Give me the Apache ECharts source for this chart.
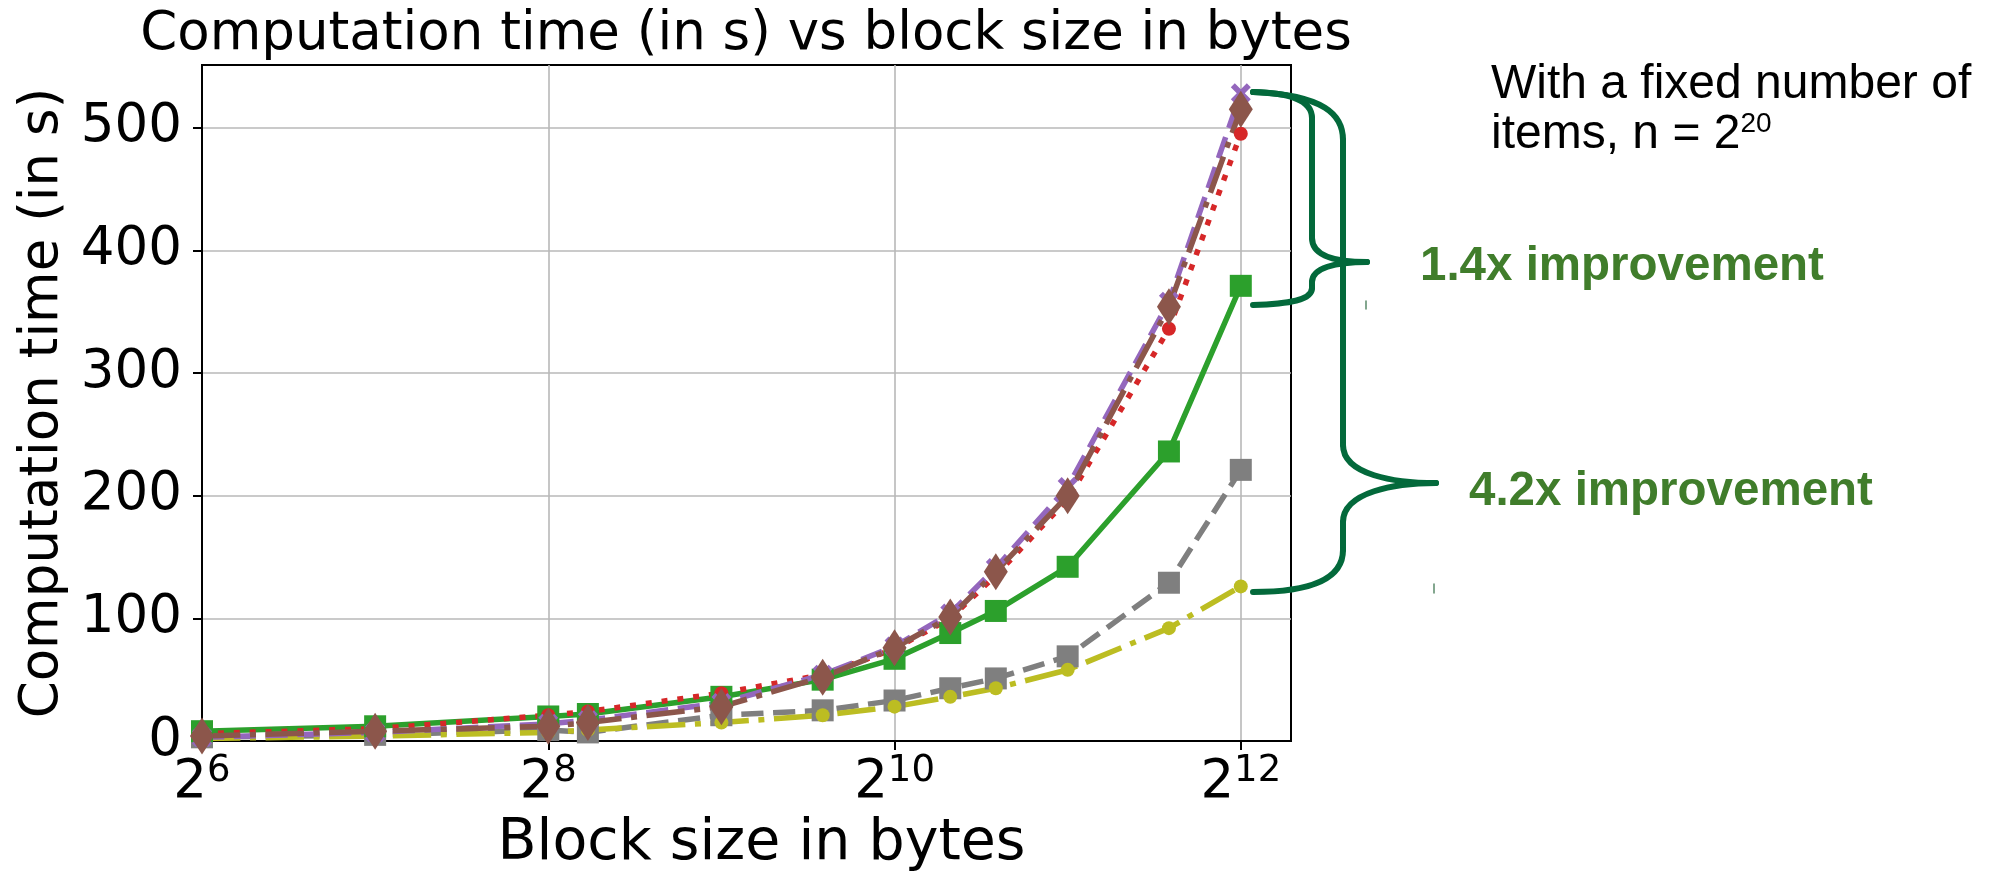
<!DOCTYPE html>
<html>
<head>
<meta charset="utf-8">
<script src="https://cdn.jsdelivr.net/npm/echarts@6/dist/echarts.min.js"></script>
<style>
html, body { margin: 0; padding: 0; background: #ffffff; }
#chart { width: 1993px; height: 872px; }
</style>
</head>
<body>
<div id="chart"></div>
<script>
// Block sizes (bytes) at which each variant was timed
const blockSizes = [64, 128, 256, 300, 512, 768, 1024, 1280, 1536, 2048, 3072, 4096];

// Computation time in seconds, one array per variant
const redTimes    = [6, 10, 21, 24, 39, 54, 75, 100, 135, 197, 336, 495];
const purpleTimes = [3, 7, 14, 17, 31, 54, 77, 104, 141, 207, 358, 528];
const brownTimes  = [4, 8, 12, 15, 28, 52, 76, 101, 138, 200, 354, 515];
const greenTimes  = [8, 12, 20, 22, 36, 50, 67, 88, 106, 142, 236, 371];
const grayTimes   = [3, 5, 9, 7, 21, 25, 33, 43, 51, 69, 129, 221];
const oliveTimes  = [2, 4, 7, 9, 15, 21, 28, 36, 43, 58, 92, 126];

// Tick positions
const xTickValues = [64, 256, 1024, 4096];
const yTickValues = [0, 100, 200, 300, 400, 500];

const FONT = 'DejaVu Sans';
const NOTE_FONT = 'Liberation Sans';
const BRACE = '#03693b';
const NOTE_GREEN = '#407d2b';

const LW = 5.5;      // drawn line width
const P = 6;         // dash pattern unit
const DASHED = [3.7 * P, 1.6 * P];
const DASHDOT = [6.4 * P, 1.6 * P, 1 * P, 1.6 * P];
const DOTTED = [1 * P, 1.65 * P];
const X_MARK = 'path://M0,2 L2,0 L5,3 L8,0 L10,2 L7,5 L10,8 L8,10 L5,7 L2,10 L0,8 L3,5 Z';

// Drawing order: later entries sit on top
const variants = [
  { name: 'Variant E', values: grayTimes,   color: '#7f7f7f', dash: DASHED,  symbol: 'rect',    size: 22 },
  { name: 'Variant F', values: oliveTimes,  color: '#bcbd22', dash: DASHDOT, symbol: 'circle',  size: 14 },
  { name: 'Variant D', values: greenTimes,  color: '#2ca02c', dash: 'solid', symbol: 'rect',    size: 22 },
  { name: 'Variant A', values: redTimes,    color: '#d62728', dash: DOTTED,  symbol: 'circle',  size: 14 },
  { name: 'Variant B', values: purpleTimes, color: '#9467bd', dash: DASHED,  symbol: X_MARK,    size: 20 },
  { name: 'Variant C', values: brownTimes,  color: '#8c564b', dash: DASHDOT, symbol: 'diamond', size: [24, 37] }
];

const series = variants.map(v => ({
  name: v.name,
  type: 'line',
  data: blockSizes.map((b, i) => [b, v.values[i]]),
  symbol: v.symbol,
  symbolSize: v.size,
  showAllSymbol: true,
  lineStyle: { color: v.color, width: LW, type: v.dash, cap: 'butt' },
  itemStyle: { color: v.color, borderWidth: 0 },
  emphasis: { disabled: true },
  clip: true
}));

// Curly braces linking the largest block size results
function curve(x1, y1, cpx1, cpy1, cpx2, cpy2, x2, y2) {
  return {
    type: 'bezierCurve',
    shape: { x1, y1, cpx1, cpy1, cpx2, cpy2, x2, y2 },
    style: { stroke: BRACE, lineWidth: 6, fill: null, lineCap: 'round' },
    z: 100
  };
}
function seg(x1, y1, x2, y2, color, width) {
  return {
    type: 'line',
    shape: { x1, y1, x2, y2 },
    style: { stroke: color || BRACE, lineWidth: width || 6, lineCap: 'round' },
    z: 100
  };
}

const braces = [
  // small brace (1.4x)
  curve(1253, 92, 1295, 93, 1312, 102, 1312, 118),
  seg(1312, 118, 1312, 238),
  curve(1312, 238, 1312, 256, 1335, 262, 1367, 262),
  curve(1367, 262, 1335, 262, 1312, 268, 1312, 282),
  seg(1312, 282, 1312, 288),
  curve(1312, 288, 1312, 300, 1290, 304, 1253, 305),
  // large brace (4.2x)
  curve(1253, 92, 1325, 95, 1343, 115, 1343, 140),
  seg(1343, 140, 1343, 445),
  curve(1343, 445, 1343, 475, 1395, 483, 1436, 483),
  curve(1436, 483, 1395, 483, 1343, 492, 1343, 522),
  seg(1343, 522, 1343, 550),
  curve(1343, 550, 1343, 580, 1310, 592, 1253, 592)
];

const option = {
  animation: false,
  backgroundColor: '#ffffff',
  grid: {
    left: 202, top: 65, width: 1089, height: 676,
    containLabel: false,
    outerBoundsMode: 'none',
    show: true, borderColor: '#000000', borderWidth: 2, backgroundColor: 'rgba(0,0,0,0)'
  },
  xAxis: {
    type: 'log',
    logBase: 2,
    min: 64,
    max: Math.pow(2, 12.29),
    axisLine: { show: true, onZero: false, lineStyle: { color: '#000', width: 2 } },
    axisTick: { show: true, inside: false, length: 9, customValues: xTickValues, lineStyle: { color: '#000', width: 2 } },
    axisLabel: {
      customValues: xTickValues,
      margin: 12,
      formatter: v => '{b|2}{s|' + Math.round(Math.log2(v)) + '}',
      rich: {
        b: { fontFamily: FONT, fontSize: 53, color: '#000', lineHeight: 60 },
        s: { fontFamily: FONT, fontSize: 37, color: '#000', lineHeight: 40, verticalAlign: 'top' }
      }
    },
    splitLine: { show: true, lineStyle: { color: '#b8b8b8', width: 1.6 } },
    minorTick: { show: false },
    name: 'Block size in bytes',
    nameLocation: 'middle',
    nameGap: 75,
    nameTextStyle: { fontFamily: FONT, fontSize: 57, color: '#000', padding: [0, 0, 0, 30] }
  },
  yAxis: {
    type: 'value',
    min: 0,
    max: 551,
    axisLine: { show: true, onZero: false, lineStyle: { color: '#000', width: 2 } },
    axisTick: { show: true, inside: false, length: 9, customValues: yTickValues, lineStyle: { color: '#000', width: 2 } },
    axisLabel: { customValues: yTickValues, margin: 20, fontFamily: FONT, fontSize: 53, color: '#000' },
    splitLine: { show: true, lineStyle: { color: '#b8b8b8', width: 1.6 } },
    name: 'Computation time (in s)',
    nameLocation: 'middle',
    nameGap: 121,
    nameTextStyle: { fontFamily: FONT, fontSize: 53, color: '#000' }
  },
  series: series,
  graphic: [
    {
      type: 'text', x: 746, y: 9, z: 100,
      style: { text: 'Computation time (in s) vs block size in bytes', font: '53px "DejaVu Sans"', fill: '#000', align: 'center', verticalAlign: 'top' }
    },
    {
      type: 'text', x: 1491, y: 60, z: 100,
      style: {
        text: '{a|With a fixed number of}\n{a|items, n = 2}{s|20}',
        fill: '#000',
        align: 'left', verticalAlign: 'top',
        rich: {
          a: { fontFamily: NOTE_FONT, fontSize: 48, lineHeight: 50, fill: '#000' },
          s: { fontFamily: NOTE_FONT, fontSize: 28, lineHeight: 30, verticalAlign: 'top', fill: '#000' }
        }
      }
    },
    {
      type: 'text', x: 1420, y: 267, z: 100,
      style: { text: '1.4x improvement', font: 'bold 47.5px "Liberation Sans"', fill: NOTE_GREEN, align: 'left', verticalAlign: 'middle' }
    },
    {
      type: 'text', x: 1469, y: 492, z: 100,
      style: { text: '4.2x improvement', font: 'bold 47.5px "Liberation Sans"', fill: NOTE_GREEN, align: 'left', verticalAlign: 'middle' }
    },
    seg(1366, 301, 1366, 309, '#5a8a6a', 1.5),
    seg(1434, 584, 1434, 593, '#5a8a6a', 1.5)
  ].concat(braces)
};

const chart = echarts.init(document.getElementById('chart'), null, { renderer: 'canvas' });
chart.setOption(option);
</script>
</body>
</html>
